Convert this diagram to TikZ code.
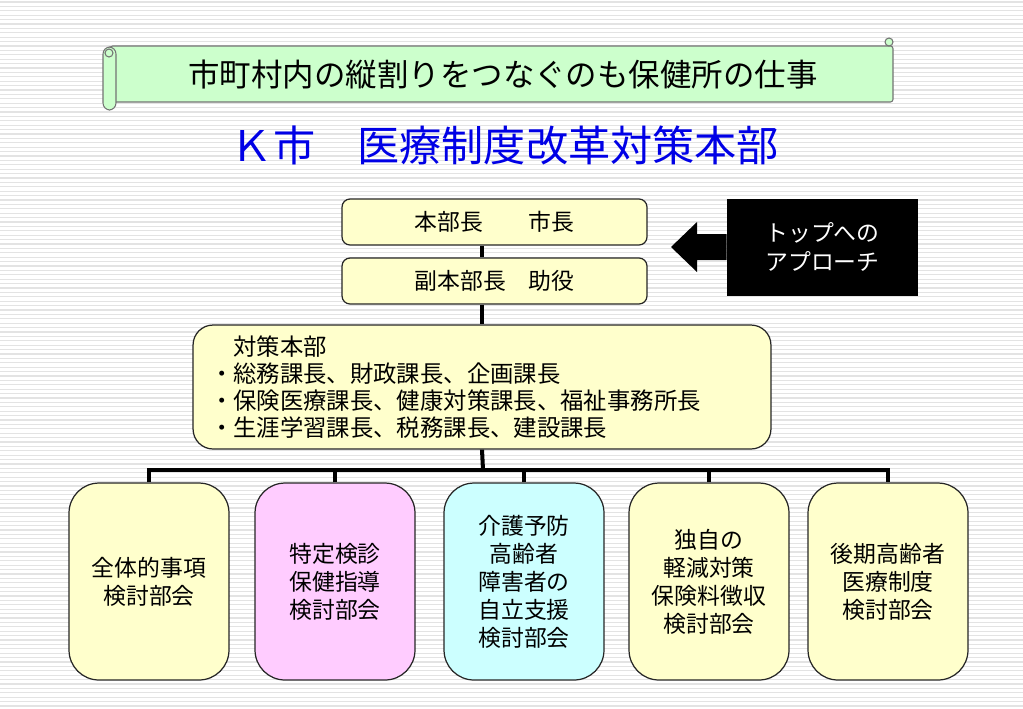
\documentclass[tikz,border=0pt]{standalone}
\usepackage{fontspec}
\setmainfont{Noto Sans CJK JP}
\usetikzlibrary{calc,positioning}
\definecolor{kiiro}{RGB}{255,255,204}
\definecolor{momo}{RGB}{255,204,255}
\definecolor{mizu}{RGB}{204,255,255}
\definecolor{midori}{RGB}{204,255,204}
\definecolor{ao}{RGB}{0,0,230}
\tikzset{
  waku/.style={draw=black!85,line width=0.7pt,align=center,font=\fontsize{13}{15.9}\selectfont},
  ue/.style={waku,fill=kiiro,minimum width=6.1cm,minimum height=0.92cm,rounded corners=0.16cm},
  bukai/.style={waku,minimum width=3.2cm,minimum height=3.94cm,rounded corners=0.6cm},
  conn/.style={line width=2.3pt,black},
  stripe/.style={gray!22,line width=0.6pt}
}
\begin{document}
\begin{tikzpicture}[x=0.02cm,y=-0.02cm]
       \useasboundingbox(0,0)rectangle(1023,708);
       \fill[white](0,0)rectangle(1023,708);%背景
       \foreach \i in{0,...,160}
           \draw[stripe](0,{\i*4.4+2})--(1023,{\i*4.4+2});%横じま

       %巻物
       \filldraw[fill=midori,draw=black!55,line width=0.6pt,rounded corners=1.5pt]
           (110,46)rectangle(893,102);
       \filldraw[fill=midori,draw=black!55,line width=0.6pt,rounded corners=4pt]
           (103,47)rectangle(116,110);
       \filldraw[fill=midori,draw=black!55,line width=0.6pt](109,53)circle(4);
       \filldraw[fill=midori,draw=black!55,line width=0.6pt](889,42)circle(4);
       \node(makimono)at(503,75){\fontsize{17.9}{21}\selectfont 市町村内の縦割りをつなぐのも保健所の仕事};

       \node[text=ao](title)at(505,145){\fontsize{24}{28}\selectfont Ｋ市　医療制度改革対策本部};

       %本部
       \node[ue](honbucho)at(494.5,222){本部長　　市長};
       \node[ue](fukuhonbucho)at(494.5,281){副本部長　助役};
       \node[waku,fill=kiiro,minimum width=11.56cm,minimum height=2.48cm,rounded corners=0.4cm,
             inner xsep=0.34cm,text width=10.88cm,align=left,font=\fontsize{13.3}{15.4}\selectfont]
           (taisaku)at(482,387){　対策本部\\
           ・総務課長、財政課長、企画課長\\
           ・保険医療課長、健康対策課長、福祉事務所長\\
           ・生涯学習課長、税務課長、建設課長};

       %トップへのアプローチ
       \node[fill=black,text=white,minimum width=3.82cm,minimum height=1.94cm,align=center,
             font=\fontsize{13}{16}\selectfont](top)at(822.5,247){トップへの\\アプローチ};
       \fill[black](top.west|-0,234)--(697,234)--(697,222)--(671,247)
           --(697,272)--(697,260)--(top.west|-0,260)--cycle;%矢印

       %部会
       \node[bukai,fill=kiiro](bukai1)at(149,581.5){全体的事項\\検討部会};
       \node[bukai,fill=momo](bukai2)at(335,581.5){特定検診\\保健指導\\検討部会};
       \node[bukai,fill=mizu](bukai3)at(524,581.5){介護予防\\高齢者\\障害者の\\自立支援\\検討部会};
       \node[bukai,fill=kiiro](bukai4)at(709,581.5){独自の\\軽減対策\\保険料徴収\\検討部会};
       \node[bukai,fill=kiiro](bukai5)at(888,581.5){後期高齢者\\医療制度\\検討部会};

       %線
       \coordinate(bus)at(483,470);
       \draw[conn](honbucho.south-|taisaku.north)--(fukuhonbucho.north-|taisaku.north);
       \draw[conn](fukuhonbucho.south-|taisaku.north)--(taisaku.north);
       \draw[conn](taisaku.south)--(bus);
       \draw[conn](bukai1.north)--(bukai1.north|-bus)--(bukai5.north|-bus)--(bukai5.north);
       \foreach \n in{2,3,4}
           \draw[conn](bukai\n.north)--(bukai\n.north|-bus);

      \end{tikzpicture}
\end{document}
